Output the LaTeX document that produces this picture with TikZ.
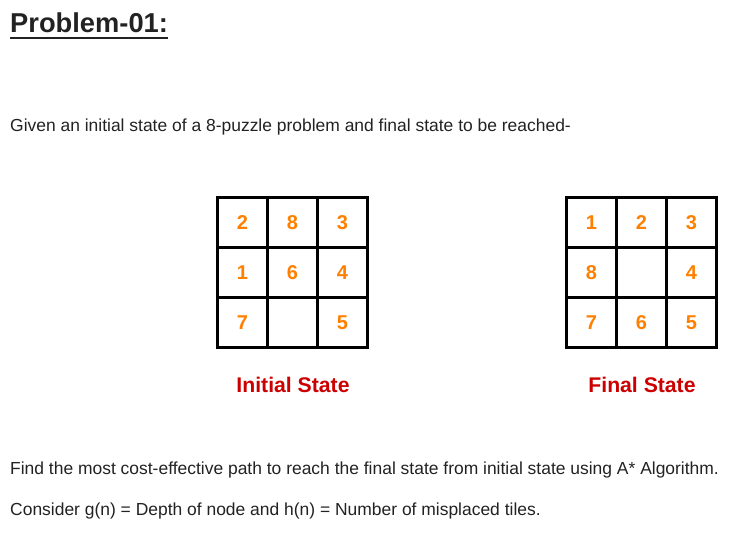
\documentclass[tikz,border=0pt]{standalone}
\usepackage{fontspec}
\setmainfont{Liberation Sans}
\usepackage{tikz}
\usetikzlibrary{positioning}

\definecolor{tileorange}{RGB}{255,128,0}
\definecolor{labelred}{RGB}{204,0,0}
\definecolor{inkgray}{RGB}{34,34,34}

\tikzset{
  tile/.style={draw=black,line width=2.6pt,minimum size=50pt,inner sep=0pt,
    font=\fontsize{20}{20}\selectfont\bfseries,text=tileorange},
  statelabel/.style={font=\fontsize{21.2}{21.2}\selectfont\bfseries,text=labelred,anchor=base},
  bodytext/.style={font=\fontsize{17.45}{17.45}\selectfont,text=inkgray,anchor=base west,inner sep=0pt}
}

\begin{document}
\begin{tikzpicture}[x=1pt,y=-1pt]
\useasboundingbox (0,0) rectangle (752,543);
\node[font=\fontsize{27.3}{27.3}\selectfont\bfseries,text=inkgray,anchor=base west,inner sep=0pt] (title) at (10,33) {Problem-01:};
\draw[inkgray,line width=2pt] ([yshift=-5pt]title.base west) -- ([yshift=-5pt]title.base east);
\node[bodytext] (given) at (10,131) {Given an initial state of a 8-puzzle problem and final state to be reached-};
% initial state
\foreach \c/\r/\t in {0/0/2,1/0/8,2/0/3,0/1/1,1/1/6,2/1/4,0/2/7,1/2/,2/2/5}
  \node[tile] (ini\c\r) at (242.5+50*\c,222.5+50*\r) {\t};
\node[statelabel] (inilabel) at (293,392) {Initial State};
% final state
\foreach \c/\r/\t in {0/0/1,1/0/2,2/0/3,0/1/8,1/1/,2/1/4,0/2/7,1/2/6,2/2/5}
  \node[tile] (fin\c\r) at (591.5+50*\c,222.5+50*\r) {\t};
\node[statelabel] (finlabel) at (642,392) {Final State};
\node[bodytext] (find) at (10,474) {Find the most cost-effective path to reach the final state from initial state using A* Algorithm.};
\node[bodytext] (consider) at (10,515.5) {Consider g(n) = Depth of node and h(n) = Number of misplaced tiles.};
\end{tikzpicture}
\end{document}
